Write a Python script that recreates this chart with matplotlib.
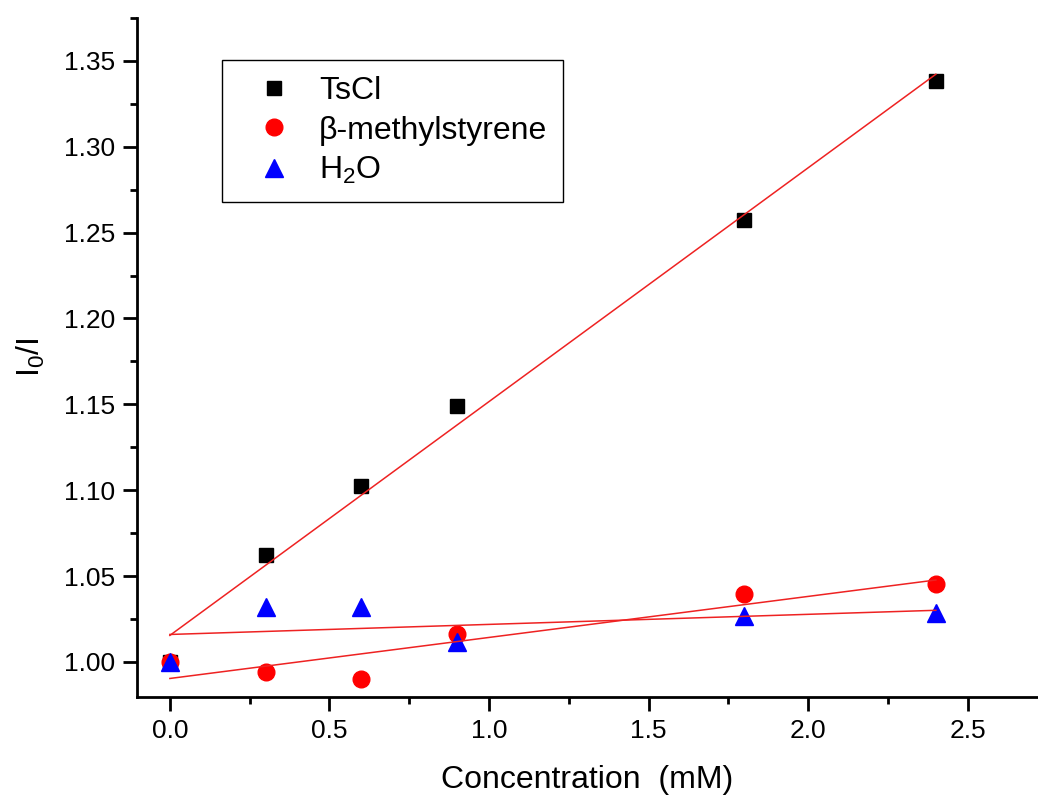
import numpy as np
import matplotlib
matplotlib.use('Agg')
import matplotlib.pyplot as plt
from matplotlib.ticker import MultipleLocator

plt.rcParams['font.family'] = ['Liberation Sans', 'DejaVu Sans']
plt.rcParams['mathtext.fontset'] = 'custom'
plt.rcParams['mathtext.rm'] = 'Liberation Sans'
plt.rcParams['mathtext.default'] = 'regular'

conc = np.array([0.0, 0.3, 0.6, 0.9, 1.8, 2.4])
tscl = np.array([1.000, 1.0623, 1.1025, 1.149, 1.2574, 1.3384])
methylstyrene = np.array([1.000, 0.994, 0.990, 1.0163, 1.0396, 1.0454])
water = np.array([1.000, 1.032, 1.032, 1.0116, 1.0268, 1.0285])

fig = plt.figure(figsize=(10.38, 8.01), dpi=100)
ax = fig.add_axes([0.132, 0.13, 0.868, 0.8475])

ax.plot(conc, tscl, 's', color='black', ms=10, label='TsCl', zorder=2)
ax.plot(conc, methylstyrene, 'o', color='red', ms=12, label='β-methylstyrene', zorder=2)
ax.plot(conc, water, '^', color='blue', ms=13, label='H$_2$O', zorder=2)

# linear fits
for y in (tscl, methylstyrene, water):
    k, b = np.polyfit(conc, y, 1)
    xs = np.array([conc.min(), conc.max()])
    ax.plot(xs, k * xs + b, color='#ee2222', lw=1.1, zorder=3)

ax.set_xlim(-0.103, 2.72)
ax.set_ylim(0.9796, 1.375)
ax.xaxis.set_major_locator(MultipleLocator(0.5))
ax.xaxis.set_minor_locator(MultipleLocator(0.25))
ax.yaxis.set_major_locator(MultipleLocator(0.05))
ax.yaxis.set_minor_locator(MultipleLocator(0.025))
ax.xaxis.set_major_formatter(matplotlib.ticker.FormatStrFormatter('%.1f'))
ax.yaxis.set_major_formatter(matplotlib.ticker.FormatStrFormatter('%.2f'))

ax.spines['top'].set_visible(False)
ax.spines['right'].set_visible(False)
for s in ('left', 'bottom'):
    ax.spines[s].set_linewidth(2)
ax.tick_params(which='major', direction='out', length=10, width=2, labelsize=19, pad=6)
ax.tick_params(which='minor', direction='out', length=5, width=2)

ax.set_xlabel('Concentration  (mM)', fontsize=23, labelpad=16)
ax.set_ylabel('I$_0$/I', fontsize=23, labelpad=12)

leg = ax.legend(loc='upper left', bbox_to_anchor=(0.094, 0.938), borderaxespad=0,
                fontsize=23, fancybox=False, edgecolor='black', framealpha=1,
                handletextpad=0.25, borderpad=0.5, labelspacing=0.3, handlelength=2.3)
leg.get_frame().set_linewidth(1)

fig.savefig('out.png', dpi=100)
